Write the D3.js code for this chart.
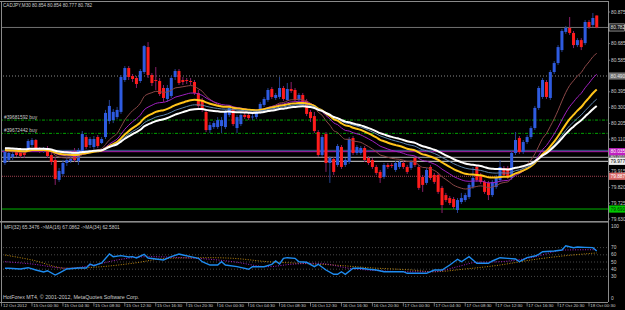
<!DOCTYPE html>
<html>
<head>
<meta charset="utf-8">
<script src="https://cdnjs.cloudflare.com/ajax/libs/d3/7.8.5/d3.min.js"></script>
<style>
html, body { margin: 0; padding: 0; background: #000; overflow: hidden; }
svg { display: block; }
text { font-family: "Liberation Sans", Arial, sans-serif; font-size: 4.8px; fill: #cccccc; }
</style>
</head>
<body>
<svg id="chart" width="625" height="310"></svg>
<script>
const titleText = "CADJPY,M30 80.854 80.854 80.777 80.782";
const mfiTitle = "MFI(32) 65.3476  ->MA(16) 67.0862  ->MA(34) 62.5801";
const copyrightText = "HotForex MT4, \u00a9 2001-2012, MetaQuotes Software Corp.";

const timeLabels = ["12 Oct 2012", "15 Oct 00:30", "15 Oct 04:30", "15 Oct 08:30", "15 Oct 12:30",
  "15 Oct 16:30", "15 Oct 20:30", "16 Oct 00:30", "16 Oct 04:30", "16 Oct 08:30", "16 Oct 12:30",
  "16 Oct 16:30", "16 Oct 20:30", "17 Oct 00:30", "17 Oct 04:30", "17 Oct 08:30", "17 Oct 12:30",
  "17 Oct 16:30", "17 Oct 20:30", "18 Oct 00:30"];
const timeLabelBars = [0, 7, 15, 23, 31, 39, 47, 55, 63, 71, 79, 87, 95, 103, 111, 119, 127, 135, 143, 151];

// open, high, low, close  (M30 bars, 12 Oct 21:00 -> 18 Oct 01:30)
const candles = [
  [79.967,80.045,79.955,80.033],[79.985,80.045,79.973,80.027],[80.003,80.039,79.985,80.021],[80.039,80.051,80.003,80.015],
  [80.033,80.045,79.997,80.009],[80.027,80.039,79.997,80.015],[80.045,80.111,80.033,80.099],[80.075,80.117,80.063,80.105],
  [80.105,80.111,80.039,80.051],[80.051,80.063,80.027,80.039],[80.039,80.063,80.027,80.051],[80.051,80.069,79.997,80.009],
  [80.015,80.033,79.955,79.973],[79.985,80.003,79.835,79.871],[79.865,79.937,79.853,79.919],[79.901,79.985,79.889,79.967],
  [79.967,80.003,79.949,79.985],[79.979,80.015,79.967,79.991],[80.027,80.057,79.973,79.985],[79.979,80.057,79.955,80.045],
  [80.027,80.159,80.015,80.141],[80.123,80.135,80.051,80.063],[80.075,80.123,80.057,80.111],[80.063,80.129,80.051,80.111],
  [80.123,80.135,80.057,80.069],[80.087,80.123,80.081,80.111],[80.123,80.286,80.111,80.268],[80.219,80.346,80.201,80.310],
  [80.225,80.292,80.207,80.274],[80.243,80.304,80.231,80.286],[80.274,80.496,80.262,80.484],[80.466,80.550,80.454,80.538],
  [80.538,80.550,80.466,80.484],[80.490,80.502,80.454,80.472],[80.478,80.490,80.418,80.442],[80.460,80.532,80.448,80.520],
  [80.514,80.676,80.502,80.670],[80.664,80.694,80.478,80.496],[80.496,80.508,80.430,80.448],[80.466,80.544,80.406,80.460],
  [80.460,80.478,80.370,80.382],[80.418,80.436,80.334,80.358],[80.352,80.436,80.334,80.418],[80.370,80.490,80.358,80.478],
  [80.484,80.532,80.466,80.520],[80.520,80.532,80.436,80.448],[80.466,80.484,80.436,80.454],[80.466,80.478,80.442,80.460],
  [80.460,80.478,80.436,80.454],[80.454,80.466,80.376,80.388],[80.388,80.406,80.298,80.310],[80.346,80.358,80.274,80.286],
  [80.274,80.286,80.153,80.165],[80.165,80.213,80.147,80.195],[80.183,80.219,80.171,80.207],[80.183,80.243,80.171,80.225],
  [80.189,80.243,80.147,80.225],[80.183,80.286,80.171,80.274],[80.256,80.316,80.243,80.298],[80.292,80.304,80.189,80.201],
  [80.177,80.256,80.147,80.243],[80.201,80.268,80.189,80.256],[80.256,80.268,80.231,80.243],[80.256,80.268,80.225,80.237],
  [80.243,80.262,80.225,80.246],[80.243,80.286,80.231,80.274],[80.274,80.334,80.262,80.322],[80.316,80.364,80.304,80.352],
  [80.346,80.418,80.334,80.406],[80.412,80.424,80.352,80.364],[80.358,80.388,80.346,80.376],[80.364,80.484,80.352,80.418],
  [80.418,80.430,80.340,80.352],[80.346,80.448,80.340,80.412],[80.412,80.454,80.388,80.400],[80.406,80.418,80.334,80.346],
  [80.346,80.388,80.334,80.376],[80.376,80.388,80.316,80.328],[80.340,80.352,80.249,80.262],[80.274,80.286,80.213,80.237],
  [80.249,80.274,80.147,80.159],[80.153,80.165,80.003,80.015],[80.015,80.135,80.003,80.123],[80.141,80.153,79.913,79.967],
  [79.967,80.009,79.847,79.997],[79.991,80.003,79.895,79.913],[79.955,80.081,79.943,80.069],[80.063,80.075,79.931,79.943],
  [79.955,79.997,79.943,79.985],[79.973,80.123,79.961,80.111],[80.117,80.129,80.015,80.027],[80.027,80.075,80.015,80.063],
  [80.027,80.069,80.015,80.057],[80.057,80.069,79.973,79.985],[79.997,80.009,79.955,79.967],[79.985,79.997,79.931,79.943],
  [79.943,79.955,79.895,79.907],[79.913,79.925,79.847,79.877],[79.883,79.967,79.871,79.955],[79.955,79.967,79.931,79.943],
  [79.955,79.967,79.937,79.949],[79.925,79.979,79.913,79.967],[79.943,79.985,79.931,79.973],[79.967,79.979,79.931,79.943],
  [79.943,79.955,79.901,79.913],[79.937,79.985,79.925,79.973],[79.997,80.009,79.943,79.955],[79.943,79.955,79.805,79.817],
  [79.883,79.895,79.793,79.835],[79.847,79.937,79.835,79.925],[79.943,79.955,79.865,79.877],[79.895,79.907,79.841,79.853],
  [79.895,79.907,79.781,79.793],[79.817,79.829,79.666,79.714],[79.774,79.787,79.732,79.744],[79.756,79.768,79.714,79.726],
  [79.750,79.762,79.690,79.702],[79.684,79.756,79.666,79.744],[79.732,79.787,79.720,79.756],[79.744,79.787,79.732,79.774],
  [79.762,79.847,79.750,79.835],[79.823,79.943,79.811,79.877],[79.943,79.955,79.853,79.865],[79.895,79.907,79.841,79.853],
  [79.853,79.865,79.781,79.793],[79.847,79.859,79.744,79.774],[79.774,79.865,79.762,79.853],[79.823,79.895,79.811,79.883],
  [79.865,79.985,79.853,79.943],[79.937,79.949,79.883,79.895],[79.937,79.949,79.871,79.883],[79.877,80.039,79.865,80.027],
  [80.027,80.153,80.015,80.105],[80.117,80.129,80.021,80.033],[80.033,80.105,80.021,80.093],[80.093,80.135,80.081,80.123],
  [80.123,80.189,80.111,80.177],[80.177,80.310,80.165,80.298],[80.298,80.430,80.286,80.418],[80.364,80.478,80.352,80.466],
  [80.454,80.466,80.352,80.364],[80.358,80.526,80.346,80.514],[80.514,80.580,80.502,80.568],[80.568,80.676,80.556,80.664],
  [80.646,80.773,80.634,80.761],[80.755,80.791,80.743,80.779],[80.779,80.845,80.737,80.749],[80.749,80.761,80.658,80.676],
  [80.676,80.718,80.664,80.706],[80.706,80.718,80.646,80.664],[80.688,80.827,80.676,80.815],[80.815,80.827,80.773,80.785],
  [80.797,80.869,80.785,80.839],[80.854,80.854,80.777,80.782]
];

// moving averages on the price window (exponential), value at the left edge
const maPeriods = [16, 25, 34, 42, 50];
const maSeeds = [80.039, 80.045, 80.045, 80.057, 80.057];

const priceTicks = [80.875, 80.685, 80.585, 80.395, 80.300, 80.205, 80.110, 79.915, 79.820, 79.725, 79.630];
const bidPrice = 80.782;
const levelPrices = [80.490, 80.225, 80.145, 80.043, 80.035, 80.001, 79.977, 79.887, 79.690];
const boxedLevels = [80.490, 80.001, 79.977, 80.035, 79.887, 79.690];
const orderLabels = ["#39681592 buy", "#39672442 buy"];
const orderPrices = [80.225, 80.145];

// MFI(32) window: [bar, value]
const mfiLevels = [70, 60, 50, 40, 30];
const mfiTicks = [100, 70, 60, 50, 40, 30, 0];
const mfiPoints = [[0,41.3],[1,41.3],[4,40.3],[6,42.1],[8,38.9],[10,36.1],[11,37.9],[13,31.9],[14,34.7],[16,40.3],
  [19,41.7],[21,41.7],[22,47.2],[23,44.9],[25,48.6],[27,61.1],[28,57.4],[30,58.8],[32,56.9],[33,57.4],[34,55.6],
  [36,60.7],[37,55.6],[39,54.2],[41,52.8],[43,57.4],[45,61.1],[46,59.7],[48,57.4],[50,55.1],[51,50.4],[53,45.8],
  [55,45.8],[56,50.4],[57,45.8],[60,43.5],[63,39.9],[64,43.5],[67,43.5],[69,46.8],[70,51.4],[71,47.2],[72,55.1],
  [73,56.0],[75,55.1],[76,50.4],[78,49.6],[80,43.5],[81,46.8],[83,38.9],[85,32.9],[86,32.9],[87,36.5],[88,32.9],
  [90,41.3],[92,41.3],[94,39.9],[96,38.9],[98,36.5],[100,36.5],[103,36.5],[104,34.3],[109,34.3],[111,38.9],
  [113,38.9],[115,45.8],[117,53.8],[118,50.4],[120,57.4],[121,52.8],[122,48.2],[125,48.2],[126,51.4],[128,56.0],
  [130,55.1],[132,54.2],[133,50.4],[135,56.0],[137,58.3],[138,60.7],[139,64.3],[142,65.3],[144,66.7],[145,72.6],
  [147,69.9],[148,70.8],[150,70.3],[152,69.9],[153,65.35]];
const mfiMa16 = [[0,50.4],[7,47.2],[16,41.3],[23,45.8],[29,52.8],[37,57.4],[46,56],[53,53.8],[59,50.4],[68,43.5],
  [74,46.8],[81,48.2],[89,41.3],[98,37.5],[105,36.5],[111,36.5],[117,43.5],[122,49.6],[128,50.4],[136,56],
  [145,66.7],[153,67.09]];
const mfiMa34 = [[0,59.7],[7,52.8],[16,41.3],[25,43.5],[33,48.2],[42,55.1],[53,56],[59,55.1],[68,50.4],[76,48.2],
  [85,45.8],[94,42.1],[105,38.9],[111,36.5],[119,40.3],[128,45.8],[136,52.8],[145,58.8],[153,62.58]];

// ---------- styles ----------
const maStyles = [
  {color: "#8c4848", width: 1},
  {color: "#a020c0", width: 1},
  {color: "#ffc41a", width: 2},
  {color: "#5f86ad", width: 1},
  {color: "#ffffff", width: 2}
];
const levelStyles = [
  {color: "#8a8a8a", dash: "1,2", width: 1},
  {color: "#00a000", dash: "3,1.5,1,1.5", width: 1},
  {color: "#00a000", dash: "3,1.5,1,1.5", width: 1},
  {color: "#3c5a8c", dash: null, width: 1},
  {color: "#b020b0", dash: null, width: 1},
  {color: "#8c8c8c", dash: null, width: 1.3},
  {color: "#d8d8d8", dash: null, width: 1},
  {color: "#a04050", dash: "1,1", width: 1},
  {color: "#00b400", dash: null, width: 1}
];
const boxStyles = [
  {fill: "#707070", text: "#e8e8e8"},
  {fill: "#606060", text: "#dddddd"},
  {fill: "#eeeeee", text: "#000000"},
  {fill: "#c020c0", text: "#ffffff"},
  {fill: "#d86a6a", text: "#ffffff"},
  {fill: "#00c800", text: "#003300"}
];

const svg = d3.select("#chart");
const W = 608;
svg.append("rect").attr("width", 625).attr("height", 310).attr("fill", "#000");

const x = d3.scaleBand()
  .domain(d3.range(candles.length))
  .range([3, 3 + candles.length * 3.868])
  .paddingInner(0.22)
  .paddingOuter(0.11);
const cx = i => x(i) + x.bandwidth() / 2;

const y = d3.scaleLinear().domain([79.630, 80.875]).range([219, 12]);
const yM = d3.scaleLinear().domain([0, 100]).range([298, 226]);
const fmt = d3.format(".3f");

const defs = svg.append("defs");
defs.append("clipPath").attr("id", "clipMain")
  .append("rect").attr("x", 1).attr("y", 2).attr("width", W - 1).attr("height", 219);
defs.append("clipPath").attr("id", "clipSub")
  .append("rect").attr("x", 1).attr("y", 223).attr("width", W - 1).attr("height", 78);

const main = svg.append("g").attr("clip-path", "url(#clipMain)");

// horizontal levels
main.selectAll(".level")
  .data(levelPrices)
  .enter()
  .append("line")
    .attr("class", "level")
    .attr("x1", 0).attr("x2", W)
    .attr("y1", d => y(d)).attr("y2", d => y(d))
    .attr("stroke", (d, i) => levelStyles[i].color)
    .attr("stroke-width", (d, i) => levelStyles[i].width)
    .attr("stroke-dasharray", (d, i) => levelStyles[i].dash);

// bid line
main.append("line")
  .attr("x1", 0).attr("x2", W)
  .attr("y1", y(bidPrice)).attr("y2", y(bidPrice))
  .attr("stroke", "#707070").attr("stroke-width", 1);

// order labels
main.selectAll(".order")
  .data(orderPrices)
  .enter()
  .append("text")
    .attr("class", "order")
    .attr("x", 4)
    .attr("y", d => y(d) - 1.5)
    .attr("fill", "#b8b8b8")
    .text((d, i) => orderLabels[i]);

// candles
const bars = main.selectAll(".bar")
  .data(candles)
  .enter()
  .append("g")
    .attr("class", "bar");

bars.append("line")
  .attr("x1", (d, i) => cx(i)).attr("x2", (d, i) => cx(i))
  .attr("y1", d => y(d[1])).attr("y2", d => y(d[2]))
  .attr("stroke", d => d[3] >= d[0] ? "#24408f" : "#8a1f6a")
  .attr("stroke-width", 1);

bars.append("rect")
  .attr("x", (d, i) => x(i))
  .attr("width", x.bandwidth())
  .attr("y", d => y(Math.max(d[0], d[3])))
  .attr("height", d => Math.max(0.8, Math.abs(y(d[0]) - y(d[3]))))
  .attr("fill", d => d[3] >= d[0] ? "#2e5be0" : "#ff1c1c");

// moving averages
const closes = candles.map(d => d[3]);
function ema(values, period, seed) {
  const a = 2 / (period + 1);
  let e = seed;
  return values.map(v => (e = e + a * (v - e)));
}
const maLine = d3.line()
  .x((d, i) => cx(i))
  .y(d => y(d))
  .curve(d3.curveMonotoneX);

maPeriods.forEach((p, k) => {
  main.append("path")
    .datum(ema(closes, p, maSeeds[k]))
    .attr("d", maLine)
    .attr("fill", "none")
    .attr("stroke", maStyles[k].color)
    .attr("stroke-width", maStyles[k].width);
});

// title
svg.append("text").attr("x", 3).attr("y", 6.5).style("font-size", "4.6px").text(titleText);

// ---------- MFI window ----------
const sub = svg.append("g").attr("clip-path", "url(#clipSub)");

sub.selectAll(".mfiLevel")
  .data(mfiLevels)
  .enter()
  .append("line")
    .attr("class", "mfiLevel")
    .attr("x1", 0).attr("x2", W)
    .attr("y1", d => yM(d)).attr("y2", d => yM(d))
    .attr("stroke", "#5a5a5a")
    .attr("stroke-width", 0.8)
    .attr("stroke-dasharray", "1,2");

const mfiLine = d3.line()
  .x(d => cx(d[0]))
  .y(d => yM(d[1]));

sub.append("path")
  .datum(mfiMa34)
  .attr("d", mfiLine.curve(d3.curveMonotoneX))
  .attr("fill", "none")
  .attr("stroke", "#c08a10")
  .attr("stroke-width", 1)
  .attr("stroke-dasharray", "1,1.5");

sub.append("path")
  .datum(mfiMa16)
  .attr("d", mfiLine.curve(d3.curveMonotoneX))
  .attr("fill", "none")
  .attr("stroke", "#a020c0")
  .attr("stroke-width", 1)
  .attr("stroke-dasharray", "1,1.5");

sub.append("path")
  .datum(mfiPoints)
  .attr("d", mfiLine.curve(d3.curveLinear))
  .attr("fill", "none")
  .attr("stroke", "#1e8cf0")
  .attr("stroke-width", 1.4);

svg.append("text").attr("x", 4).attr("y", 228.8).text(mfiTitle);
svg.append("text").attr("x", 3).attr("y", 298.8).style("font-size", "5.3px").text(copyrightText);

// ---------- frame ----------
const frame = svg.append("g").attr("stroke", "#8a8a8a").attr("fill", "none");
frame.append("line").attr("x1", 0).attr("x2", W).attr("y1", 1.5).attr("y2", 1.5);
frame.append("line").attr("x1", 1.5).attr("x2", 1.5).attr("y1", 1).attr("y2", 302);
frame.append("line").attr("x1", W + 0.5).attr("x2", W + 0.5).attr("y1", 1).attr("y2", 302);
frame.append("rect").attr("x", 0).attr("y", 221).attr("width", W).attr("height", 1.6)
  .attr("fill", "#8a8a8a").attr("stroke", "none");
frame.append("line").attr("x1", 0).attr("x2", W).attr("y1", 302.5).attr("y2", 302.5);

// ---------- price axis ----------
const axisR = svg.append("g");
axisR.selectAll(".pt")
  .data(priceTicks)
  .enter()
  .append("g")
    .attr("class", "pt")
    .each(function(d) {
      const g = d3.select(this);
      g.append("line").attr("x1", W).attr("x2", W + 2).attr("y1", y(d)).attr("y2", y(d))
        .attr("stroke", "#8a8a8a").attr("stroke-width", 0.8);
      g.append("text").attr("x", 611).attr("y", y(d)).attr("dy", "0.35em").text(fmt(d));
    });

axisR.selectAll(".box")
  .data(boxedLevels)
  .enter()
  .append("g")
    .attr("class", "box")
    .each(function(d, i) {
      const g = d3.select(this);
      g.append("rect").attr("x", 609).attr("y", y(d) - 3.6).attr("width", 16).attr("height", 7.2)
        .attr("fill", boxStyles[i].fill);
      g.append("text").attr("x", 610.5).attr("y", y(d)).attr("dy", "0.35em")
        .style("fill", boxStyles[i].text).text(fmt(d));
    });

// bid price box
axisR.append("rect").attr("x", 609).attr("y", y(bidPrice) - 3.6).attr("width", 15.5).attr("height", 7.2)
  .attr("fill", "#1a1a1a").attr("stroke", "#d0d0d0").attr("stroke-width", 0.6);
axisR.append("text").attr("x", 610.5).attr("y", y(bidPrice)).attr("dy", "0.35em")
  .style("fill", "#e0e0e0").text(fmt(bidPrice));

// MFI axis
axisR.selectAll(".mt")
  .data(mfiTicks)
  .enter()
  .append("text")
    .attr("class", "mt")
    .attr("x", 611)
    .attr("y", d => yM(d))
    .attr("dy", "0.35em")
    .text(d => d);

// ---------- time axis ----------
const axisB = svg.append("g");
axisB.selectAll(".tt")
  .data(timeLabelBars)
  .enter()
  .append("g")
    .attr("class", "tt")
    .each(function(d, i) {
      const g = d3.select(this);
      const px = i === 0 ? 1.5 : cx(d);
      g.append("line").attr("x1", px).attr("x2", px).attr("y1", 302).attr("y2", 306.5)
        .attr("stroke", "#8a8a8a").attr("stroke-width", 0.8);
      g.append("text").attr("x", i === 0 ? 3 : px + 1.2).attr("y", 307.3)
        .style("font-size", "4.4px").text(timeLabels[i]);
    });
</script>
</body>
</html>
